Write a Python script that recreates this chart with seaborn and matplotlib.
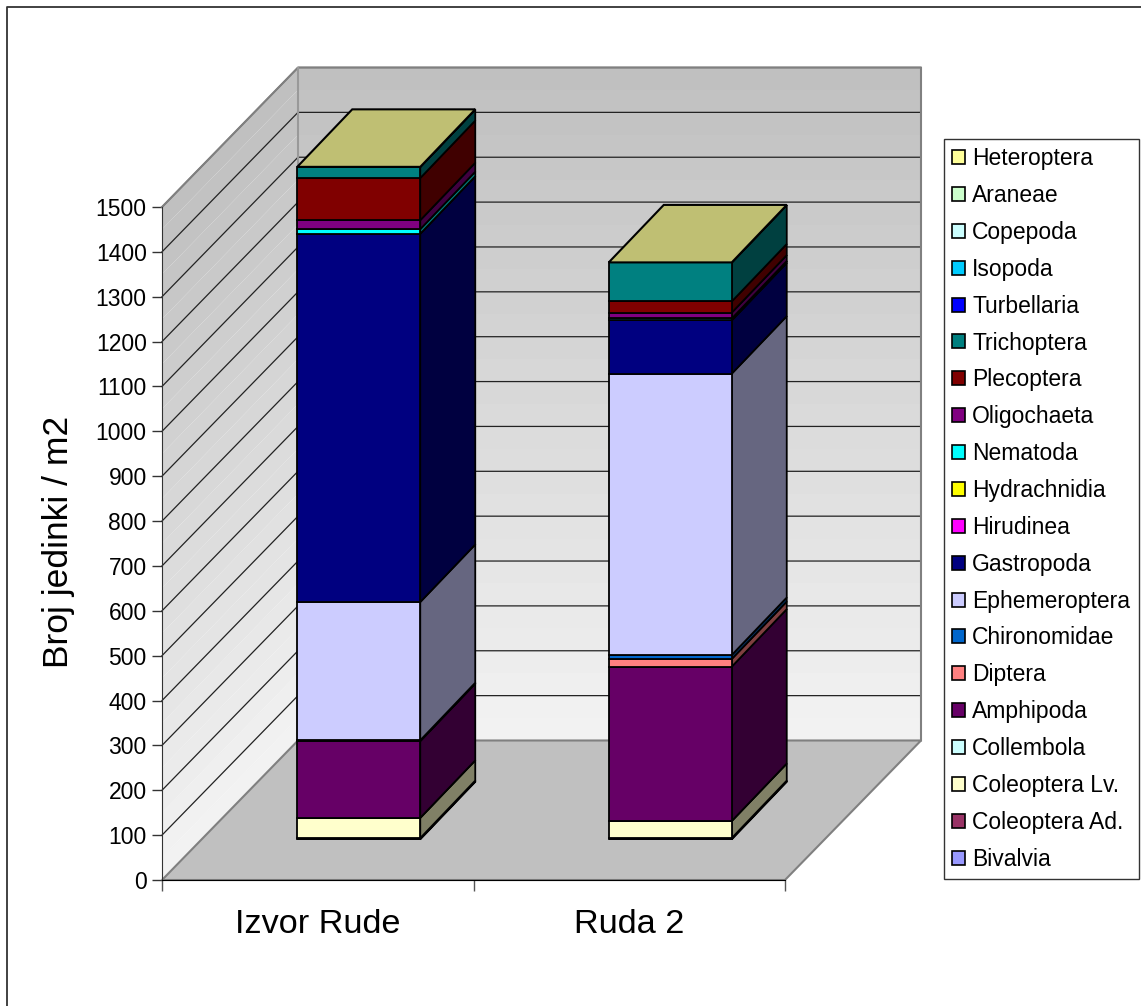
import numpy as np
import pandas as pd
import seaborn as sns
import matplotlib.pyplot as plt
from matplotlib.colors import to_rgb
from matplotlib.lines import Line2D
from matplotlib.patches import Patch
from matplotlib.transforms import Affine2D

sites = ['Izvor Rude', 'Ruda 2']
taxa = ['Bivalvia', 'Coleoptera Ad.', 'Coleoptera Lv.', 'Collembola', 'Amphipoda',
        'Diptera', 'Chironomidae', 'Ephemeroptera', 'Gastropoda', 'Hirudinea',
        'Hydrachnidia', 'Nematoda', 'Oligochaeta', 'Plecoptera', 'Trichoptera',
        'Turbellaria', 'Isopoda', 'Copepoda', 'Araneae', 'Heteroptera']
izvor_rude = [2, 1, 45, 0, 171, 1, 1, 308, 821, 0, 0, 10, 20, 94, 25, 0, 0, 0, 0, 0]
ruda_2 = [2, 1, 38, 0, 344, 17, 9, 627, 119, 0, 0, 4, 13, 25, 87, 0, 0, 0, 0, 0]
colors = ['#9999FF', '#993366', '#FFFFCC', '#CCFFFF', '#660066',
          '#FF8080', '#0066CC', '#CCCCFF', '#000080', '#FF00FF',
          '#FFFF00', '#00FFFF', '#800080', '#800000', '#008080',
          '#0000FF', '#00CCFF', '#CCFFFF', '#CCFFCC', '#FFFF99']
yticks = list(range(0, 1501, 100))

W, H = 1141, 1006
plt.rcParams['font.family'] = ['Liberation Sans', 'DejaVu Sans']

# fake 3d: depth offsets in data units
px_x = 311.5  # pixels per category
px_y = 673 / 1500  # pixels per count
wall_x, wall_y = 136 / px_x, 139.5 / px_y
front_x, front_y = 41 / px_x, 40.6 / px_y
deep_x, deep_y = 55 / px_x, 57.5 / px_y

f = plt.figure(figsize=(W / 100, H / 100), dpi=100)
ax = f.add_axes([162 / W, 1 - 880 / H, 623 / W, 673 / H])

# only the left and top of the chart frame fall inside the crop
f.add_artist(Line2D([6.5 / W, 6.5 / W, 1], [0, 1 - 6.5 / H, 1 - 6.5 / H],
                    transform=f.transFigure, color='#333333', lw=1.3))

# walls with a stepped grey gradient
n = 30
for i in range(n):
    v0, v1 = 1500 * i / n, 1500 * (i + 1) / n
    g = 0.95 - (0.95 - 0.753) * i / (n - 1)
    ax.fill([-0.5, -0.5 + wall_x, -0.5 + wall_x, -0.5],
            [v0, v0 + wall_y, v1 + wall_y, v1], color=(g, g, g), lw=0, clip_on=False, zorder=1)
    ax.fill([-0.5 + wall_x, 1.5 + wall_x, 1.5 + wall_x, -0.5 + wall_x],
            [v0 + wall_y, v0 + wall_y, v1 + wall_y, v1 + wall_y],
            color=(g, g, g), lw=0, clip_on=False, zorder=1)
ax.fill([-0.5, 1.5, 1.5 + wall_x, -0.5 + wall_x], [0, 0, wall_y, wall_y],
        fc='#C0C0C0', ec='#808080', lw=1.5, clip_on=False, zorder=2)
for v in yticks[1:]:
    ax.plot([-0.5, -0.5 + wall_x, 1.5 + wall_x], [v, v + wall_y, v + wall_y],
            color='#222222', lw=0.9, clip_on=False, zorder=2)
ax.plot([-0.5, -0.5 + wall_x, 1.5 + wall_x, 1.5 + wall_x],
        [1500, 1500 + wall_y, 1500 + wall_y, wall_y],
        color='#808080', lw=1.5, clip_on=False, zorder=2)
ax.plot([-0.5 + wall_x, -0.5 + wall_x], [wall_y, 1500 + wall_y], color='#999999', lw=1.5,
        zorder=2, clip_on=False)

# stacked front faces
df = pd.DataFrame({'site': sites * len(taxa),
                   'taxon': np.repeat(taxa, 2),
                   'count': np.ravel(list(zip(izvor_rude, ruda_2)))})
shift = Affine2D().translate(front_x, front_y) + ax.transData
bottom = np.zeros(2)
for t, c in zip(taxa, colors):
    sub = df[df['taxon'] == t]
    sns.barplot(data=sub, x='site', y='count', bottom=bottom, color=c, saturation=1,
                width=123 / px_x, edgecolor='black', linewidth=1.3, errorbar=None, ax=ax, zorder=4)
    for bar in ax.containers[-1]:
        bar.set_transform(shift)
        bar.set_clip_on(False)
        # side face off the real bar geometry
        x1 = bar.get_x() + bar.get_width()
        y0, y1 = bar.get_y(), bar.get_y() + bar.get_height()
        side = [x1, x1 + deep_x, x1 + deep_x, x1]
        ax.fill(side, [y0, y0 + deep_y, y1 + deep_y, y1], transform=shift,
                fc=tuple(0.5 * np.array(to_rgb(c))), ec='black', lw=1.3,
                clip_on=False, zorder=3)
    bottom = bottom + sub['count'].values

# top face takes the uppermost series colour
top = to_rgb(colors[-1])
for bar in ax.containers[-1]:
    x0, w = bar.get_x(), bar.get_width()
    y = bar.get_y() + bar.get_height()
    ax.fill([x0, x0 + w, x0 + w + deep_x, x0 + deep_x], [y, y, y + deep_y, y + deep_y],
            transform=shift, fc=tuple(0.75 * np.array(top)), ec='black', lw=1.5,
            clip_on=False, zorder=5)

ax.set(xlim=(-0.5, 1.5), ylim=(0, 1500), xlabel='')
ax.set_yticks(yticks)
ax.set_xticks([-0.5, 0.5, 1.5], minor=True)
ax.tick_params(axis='x', which='major', length=0, labelsize=24.7, pad=20.7)
ax.tick_params(axis='x', which='minor', length=7.8, width=1, color='#555555')
ax.tick_params(axis='y', length=7.5, width=1, color='#333333', labelsize=16.5, pad=3.5)
ax.set_ylabel('Broj jedinki / m2', fontsize=25.5)
ax.yaxis.set_label_coords((75 - 162) / 623, 338 / 673)
ax.patch.set_visible(False)
sns.despine(ax=ax)
ax.spines['left'].set_color('#333333')
ax.spines['bottom'].set_color('black')
for s in ax.spines.values():
    s.set_zorder(3)

handles = [Patch(fc=c, ec='black', lw=1.2, label=t) for t, c in zip(taxa, colors)][::-1]
f.legend(handles=handles, loc='upper left', bbox_to_anchor=(943.7 / W, 1 - 139 / H), borderaxespad=0,
         fontsize=16.5, fancybox=False, framealpha=1, edgecolor='#333333', borderpad=0.36,
         handlelength=0.56, handleheight=0.56, handletextpad=0.33, labelspacing=0.605)

f.savefig('out.png', dpi=100, facecolor='white')
